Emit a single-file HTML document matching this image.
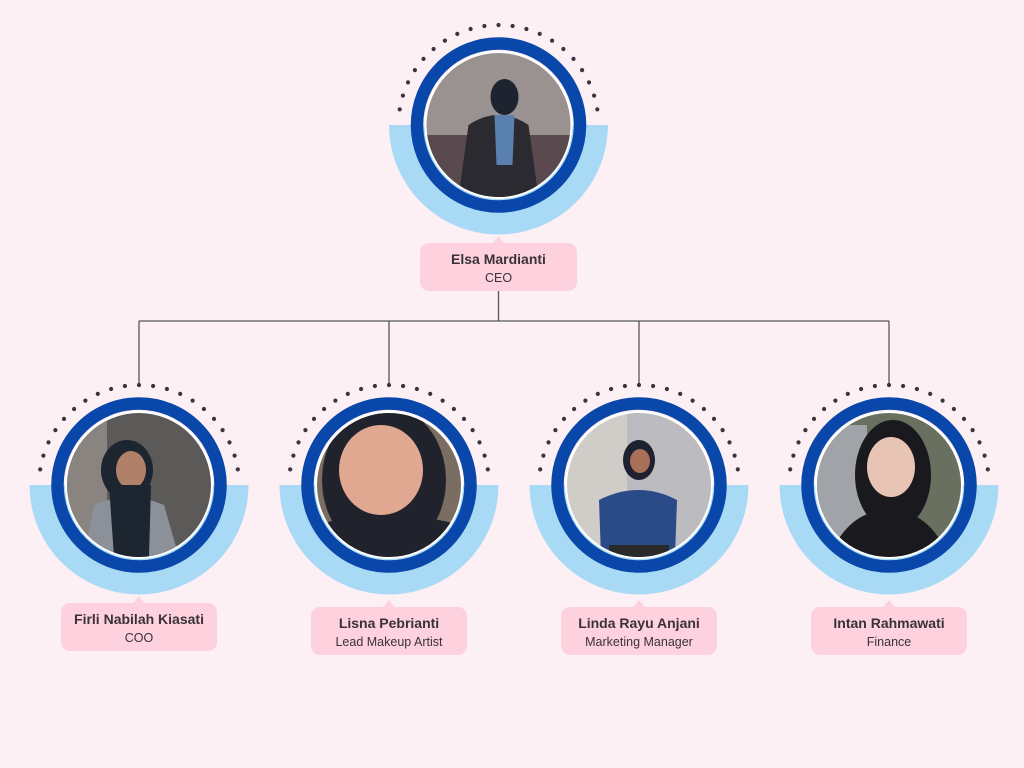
<!DOCTYPE html>
<html><head><meta charset="utf-8">
<style>
html,body{margin:0;padding:0;background:#fdf0f5;}
svg{display:block}
text{font-family:"Liberation Sans",sans-serif;}
.n{font-weight:bold;font-size:14px;fill:#3a3236}
.r{font-size:12.5px;fill:#3a3236}
</style></head><body>
<svg width="1024" height="768" viewBox="0 0 1024 768" xmlns="http://www.w3.org/2000/svg">
<defs>
<clipPath id="c" clipPathUnits="userSpaceOnUse"><circle cx="0" cy="0" r="72"/></clipPath>
<g id="frame">
  <path d="M-109.5 0 A109.5 109.5 0 0 0 109.5 0 Z" fill="#a8daf6"/>
  <g fill="#3a3440">
   <circle cx="0" cy="-100" r="2.1"/>
   <circle cx="14.1" cy="-99" r="2.1"/><circle cx="-14.1" cy="-99" r="2.1"/>
   <circle cx="27.9" cy="-96" r="2.1"/><circle cx="-27.9" cy="-96" r="2.1"/>
   <circle cx="41.2" cy="-91.1" r="2.1"/><circle cx="-41.2" cy="-91.1" r="2.1"/>
   <circle cx="53.6" cy="-84.4" r="2.1"/><circle cx="-53.6" cy="-84.4" r="2.1"/>
   <circle cx="64.9" cy="-76" r="2.1"/><circle cx="-64.9" cy="-76" r="2.1"/>
   <circle cx="75" cy="-66.1" r="2.1"/><circle cx="-75" cy="-66.1" r="2.1"/>
   <circle cx="83.6" cy="-54.9" r="2.1"/><circle cx="-83.6" cy="-54.9" r="2.1"/>
   <circle cx="90.5" cy="-42.6" r="2.1"/><circle cx="-90.5" cy="-42.6" r="2.1"/>
   <circle cx="95.6" cy="-29.4" r="2.1"/><circle cx="-95.6" cy="-29.4" r="2.1"/>
   <circle cx="98.8" cy="-15.6" r="2.1"/><circle cx="-98.8" cy="-15.6" r="2.1"/>
  </g>
  <circle r="81.5" fill="none" stroke="#0a47aa" stroke-width="12.5"/>
  <circle r="74" fill="#ffffff"/>
</g>
</defs>
<rect width="1024" height="768" fill="#fdf0f5"/>

<g stroke="#555" stroke-width="1.3" fill="none">
<line x1="498.5" y1="291" x2="498.5" y2="321"/>
<line x1="139" y1="321" x2="889" y2="321"/>
<line x1="139" y1="321" x2="139" y2="386"/>
<line x1="389" y1="321" x2="389" y2="386"/>
<line x1="639" y1="321" x2="639" y2="386"/>
<line x1="889" y1="321" x2="889" y2="386"/>
</g>

<g transform="translate(498.5,125)">
<use href="#frame"/>
<g clip-path="url(#c)">
<rect x="-72" y="-72" width="144" height="144" fill="#9a9290"/>
<rect x="-72" y="10" width="144" height="62" fill="#5a4a50"/>
<path d="M-40 72 L-30 0 Q0 -20 30 0 L40 72 Z" fill="#2a2a30"/>
<ellipse cx="6" cy="-28" rx="14" ry="18" fill="#1e2330"/>
<path d="M-4 -10 L16 -10 L14 40 L-2 40 Z" fill="#5a80b0"/>
</g>
</g>
<rect x="420" y="243" width="157" height="48" rx="9" fill="#fdd2de"/>
<path d="M492 244 L498.5 236 L505 244 Z" fill="#fdd2de"/>
<text class="n" x="498.5" y="264" text-anchor="middle">Elsa Mardianti</text>
<text class="r" x="498.5" y="282" text-anchor="middle">CEO</text>

<g transform="translate(139,485)">
<use href="#frame"/>
<g clip-path="url(#c)">
<rect x="-72" y="-72" width="144" height="144" fill="#5c5a58"/>
<rect x="-72" y="-72" width="40" height="144" fill="#8a8480"/>
<path d="M-55 72 L-45 20 Q-10 5 25 20 L40 72 Z" fill="#8c9098"/>
<ellipse cx="-12" cy="-15" rx="26" ry="30" fill="#1d2530"/>
<ellipse cx="-8" cy="-15" rx="15" ry="19" fill="#b08068"/>
<path d="M-30 0 L12 0 L10 72 L-25 72 Z" fill="#1d2530"/>
</g>
</g>
<rect x="61" y="603" width="156" height="48" rx="9" fill="#fdd2de"/>
<path d="M132.5 604 L139 596 L145.5 604 Z" fill="#fdd2de"/>
<text class="n" x="139" y="624" text-anchor="middle">Firli Nabilah Kiasati</text>
<text class="r" x="139" y="642" text-anchor="middle">COO</text>

<g transform="translate(389,485)">
<use href="#frame"/>
<g clip-path="url(#c)">
<rect x="-72" y="-72" width="144" height="144" fill="#7a6e62"/>
<ellipse cx="-5" cy="-5" rx="62" ry="75" fill="#20232c"/>
<ellipse cx="-8" cy="-15" rx="42" ry="45" fill="#e0a890"/>
<path d="M-72 40 Q-5 20 72 40 L72 72 L-72 72 Z" fill="#20232c"/>
</g>
</g>
<rect x="311" y="607" width="156" height="48" rx="9" fill="#fdd2de"/>
<path d="M382.5 608 L389 600 L395.5 608 Z" fill="#fdd2de"/>
<text class="n" x="389" y="628" text-anchor="middle">Lisna Pebrianti</text>
<text class="r" x="389" y="646" text-anchor="middle">Lead Makeup Artist</text>

<g transform="translate(639,485)">
<use href="#frame"/>
<g clip-path="url(#c)">
<rect x="-72" y="-72" width="144" height="144" fill="#d0ccc8"/>
<rect x="-12" y="-72" width="84" height="144" fill="#bcbcc0"/>
<path d="M-38 72 L-40 15 Q0 -5 38 15 L36 72 Z" fill="#2a4a88"/>
<ellipse cx="0" cy="-25" rx="16" ry="20" fill="#1e2230"/>
<ellipse cx="1" cy="-24" rx="10" ry="12" fill="#a87058"/>
<rect x="-30" y="60" width="60" height="12" fill="#2a2a2a"/>
</g>
</g>
<rect x="561" y="607" width="156" height="48" rx="9" fill="#fdd2de"/>
<path d="M632.5 608 L639 600 L645.5 608 Z" fill="#fdd2de"/>
<text class="n" x="639" y="628" text-anchor="middle">Linda Rayu Anjani</text>
<text class="r" x="639" y="646" text-anchor="middle">Marketing Manager</text>

<g transform="translate(889,485)">
<use href="#frame"/>
<g clip-path="url(#c)">
<rect x="-72" y="-72" width="144" height="144" fill="#6a7060"/>
<rect x="-72" y="-60" width="50" height="132" fill="#a0a4a8"/>
<ellipse cx="4" cy="-10" rx="38" ry="55" fill="#1a1a1e"/>
<ellipse cx="2" cy="-18" rx="24" ry="30" fill="#e8c4b4"/>
<path d="M-60 72 Q-40 25 0 25 Q40 25 60 72 Z" fill="#1a1a1e"/>
</g>
</g>
<rect x="811" y="607" width="156" height="48" rx="9" fill="#fdd2de"/>
<path d="M882.5 608 L889 600 L895.5 608 Z" fill="#fdd2de"/>
<text class="n" x="889" y="628" text-anchor="middle">Intan Rahmawati</text>
<text class="r" x="889" y="646" text-anchor="middle">Finance</text>
</svg>
</body></html>
